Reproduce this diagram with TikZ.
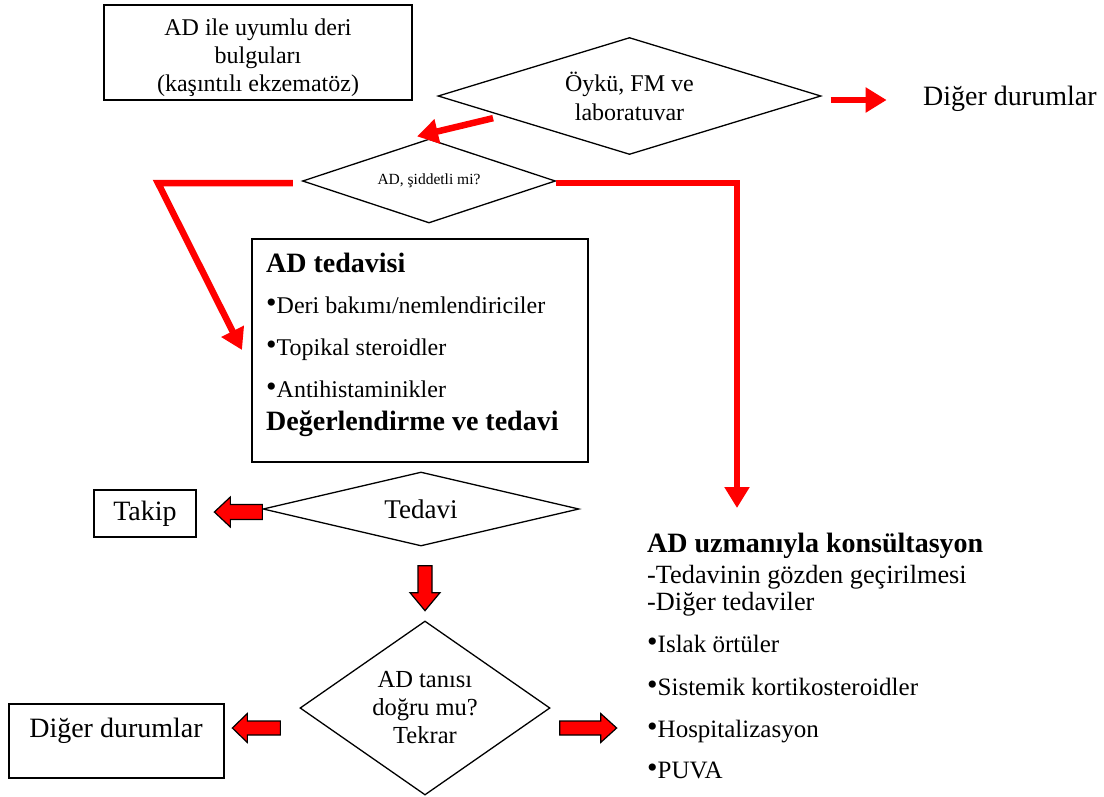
\documentclass[tikz,border=0pt]{standalone}
\usepackage{fontspec}
\setmainfont{Liberation Serif}
\usetikzlibrary{shapes.geometric,arrows.meta,calc}
% raised bullet used in the item lists
\newcommand\bul{\raisebox{0.5pt}{\fontsize{30}{30}\selectfont\textbullet}}
\tikzset{
  every node/.style={inner sep=0pt},
  box/.style={draw, line width=1.3pt},
  dia/.style={diamond, draw, line width=1.3pt, align=center},
  f24/.style={font=\fontsize{24}{29}\selectfont},
  f245/.style={font=\fontsize{24.5}{28}\selectfont},
  f25/.style={font=\fontsize{25}{28}\selectfont},
  f26/.style={font=\fontsize{26.3}{28}\selectfont},
  f28/.style={font=\fontsize{28}{32}\selectfont},
  f28b/.style={font=\fontsize{28}{32}\selectfont\bfseries},
  redarrow/.style={draw=red, line width=6.5pt, line join=miter,
    -{Triangle[length=21pt,width=24pt]}},
  pics/barrow/.style n args={4}{code={
    \filldraw[fill=red, draw=black, line width=1.2pt, line join=miter]
      (0,-#3) -- ({#1-#2},-#3) -- ({#1-#2},-#4) -- (#1,0) -- ({#1-#2},#4)
      -- ({#1-#2},#3) -- (0,#3) -- cycle;
  }},
}
\begin{document}
\begin{tikzpicture}[x=1pt,y=-1pt]
\useasboundingbox (0,0) rectangle (1104,796);
\fill[white] (0,0) rectangle (1104,796);

% starting box
\node[box, minimum width=308pt, minimum height=95pt] (start) at (258,52.5) {};
\node[anchor=base, f24] (st1) at (258,35) {AD ile uyumlu deri};
\node[anchor=base, f24] (st2) at (258,63) {bulguları};
\node[anchor=base, f24] (st3) at (258,91) {(kaşıntılı ekzematöz)};

% history / examination / laboratory decision
\node[dia, minimum width=383pt, minimum height=117pt, aspect=3.27, f24] (d1) at (629.5,96) {Öykü, FM ve\\laboratuvar};
\node[anchor=base west, f28] (other1) at (923,105) {Diğer durumlar};
\draw[redarrow] ($(d1.east)+(9,4)$) -- ($(d1.east)+(65,4)$);

% severity decision
\node[dia, minimum width=253pt, minimum height=84pt, aspect=3, font=\fontsize{15.5}{18}\selectfont] (d2) at (429,181) {AD, şiddetli mi?};
\draw[redarrow] ($(d1.west)!0.29!(d1.south)+(0,5)$) -- ($(d2.north)+(-12,-2)$);

% treatment box
\node[box, minimum width=336pt, minimum height=223pt] (tbox) at (420,350.5) {};
\node[anchor=base west, f28b] (tb1) at (266,272) {AD tedavisi};
\node[anchor=base west, f24] (tb2) at (266,313) {\bul Deri bakımı/nemlendiriciler};
\node[anchor=base west, f24] (tb3) at (266,355) {\bul Topikal steroidler};
\node[anchor=base west, f24] (tb4) at (266,397) {\bul Antihistaminikler};
\node[anchor=base west, f28b] (tb5) at (266,430) {Değerlendirme ve tedavi};

% connectors leaving the severity decision
\coordinate (lc) at (158,183);
\coordinate (lt) at (242,350);
\draw[redarrow] ($(d2.west)+(-9,2)$) -- (lc) -- (lt);
\coordinate (rt) at (737,508);
\draw[redarrow] ($(d2.east)+(0,2)$) -| (rt);

% treatment decision
\node[dia, minimum width=316pt, minimum height=74pt, aspect=4.27, font=\fontsize{27}{31}\selectfont] (ted) at (421,509) {Tedavi};
\node[box, minimum width=102pt, minimum height=47pt, f28] (takip) at (145,513.5) {Takip};
\pic[rotate=180] at ($(ted.west)+(0,3)$) {barrow={48}{16}{7.5}{15}};
\pic[rotate=-90] at ($(ted.south)+(4,19)$) {barrow={45}{18}{7}{15}};

% diagnosis check
\node[dia, minimum width=250pt, minimum height=174pt, aspect=1.44, f245] (d4) at (425,708) {AD tanısı\\doğru mu?\\Tekrar};
\node[box, minimum width=215pt, minimum height=74pt] (other2) at (116.5,741) {};
\node[anchor=base, f28] (other2t) at (116,737) {Diğer durumlar};
\pic[rotate=180] at ($(d4.west)+(-19,20)$) {barrow={48}{15}{7}{14.5}};
\pic at ($(d4.east)+(9,20)$) {barrow={57}{16}{7}{14.5}};

% specialist consultation
\node[anchor=base west, f28b] (c0) at (647,552) {AD uzmanıyla konsültasyon};
\node[anchor=base west, f26] (c1) at (647,583) {-Tedavinin gözden geçirilmesi};
\node[anchor=base west, f26] (c2) at (647,610) {-Diğer tedaviler};
\node[anchor=base west, f25] (c3) at (647,652) {\bul Islak örtüler};
\node[anchor=base west, f25] (c4) at (647,695) {\bul Sistemik kortikosteroidler};
\node[anchor=base west, f25] (c5) at (647,737) {\bul Hospitalizasyon};
\node[anchor=base west, f25] (c6) at (647,778) {\bul PUVA};
\end{tikzpicture}
\end{document}
